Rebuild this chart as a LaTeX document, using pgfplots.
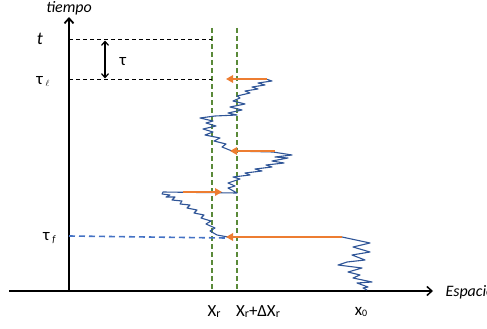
\documentclass[border=0pt]{standalone}
\usepackage{pgfplots}
\pgfplotsset{compat=1.18}
\usetikzlibrary{arrows.meta}
\usepackage{fontspec}
\setmainfont{Carlito}
\definecolor{walkblue}{HTML}{2F5597}
\definecolor{dashblue}{HTML}{4472C4}
\definecolor{jumporange}{HTML}{ED7D31}
\definecolor{barrier}{HTML}{70AD47}
\begin{document}
\begin{tikzpicture}
\useasboundingbox (0,0) rectangle (487bp,329bp);
\begin{axis}[
  at={(0,0)}, anchor=south west,
  scale only axis, width=487bp, height=329bp,
  xmin=0, xmax=487, ymin=0, ymax=329, y dir=reverse,
  hide axis, clip=false,
  every axis plot/.append style={no markers},
]
% axes
\addplot[black, line width=1.5bp, -{Straight Barb[length=5bp,width=9bp,line width=1.5bp]}]
  coordinates {(9,291) (433,291)};
\addplot[black, line width=2.5bp, -{Straight Barb[length=5bp,width=9bp,line width=1.8bp]}]
  coordinates {(69,291.7) (69,17)};

% barrier lines
\addplot[barrier!80!black, line width=1.1bp, dash pattern=on 5bp off 3bp]
  coordinates {(212,28) (212,291)};
\addplot[barrier!80!black, line width=1.1bp, dash pattern=on 5bp off 3bp]
  coordinates {(237,28) (237,291)};

% time levels
\addplot[black, line width=1bp, dash pattern=on 4bp off 3bp]
  coordinates {(69,40) (212,40)};
\addplot[black, line width=1bp, dash pattern=on 4bp off 3bp]
  coordinates {(69,79) (212,79)};
\addplot[black, line width=1.2bp, {Straight Barb[length=4bp,width=7bp]}-{Straight Barb[length=4bp,width=7bp]}]
  coordinates {(105,40.5) (105,78.5)};
\addplot[dashblue, line width=1.6bp, dash pattern=on 6bp off 4bp]
  coordinates {(69,236) (226,238)};

% trajectory
\addplot[walkblue, line width=1.1bp, line join=round] coordinates {
 (367,290) (363,288) (368,287) (357,283) (372,282) (353,278) (360,275)
 (348,272) (362,268) (338,265) (347,262) (365,260) (352,255) (370,252)
 (353,247) (370,243) (342,237)
 (228,237) (217,235)
 (210,231) (215,228) (206,224) (211,221) (201,218) (204,215) (194,213)
 (197,210) (187,208) (190,205) (180,204) (182,201) (172,200) (175,197)
 (166,197) (170,195) (162,194) (163,192)
 (237,193)
 (228,188) (235,186) (228,183) (240,179) (233,177) (250,175) (245,173)
 (262,171) (255,169) (272,167) (266,165) (284,163) (272,161) (288,158)
 (275,157) (292,155) (273,152)
 (232,151)
 (222,147) (226,144) (214,141) (220,138) (205,135) (213,132) (203,129)
 (216,126) (206,123) (213,121) (200,118) (215,116) (237,115)
 (228,113) (242,110) (230,107) (245,104) (233,101) (240,98) (237,96)
 (250,93) (245,91) (258,89) (252,87) (265,85) (258,83) (272,81) (266,79)
};

% jumps
\addplot[jumporange, line width=2.4bp, -{Triangle[length=7bp,width=7.5bp]}]
  coordinates {(267,79) (226,79)};
\addplot[jumporange, line width=2.4bp, -{Triangle[length=7bp,width=7.5bp]}]
  coordinates {(275,151) (230,151)};
\addplot[jumporange, line width=2.4bp, -{Triangle[length=7bp,width=7.5bp]}]
  coordinates {(183,192) (222,192)};
\addplot[jumporange, line width=2.4bp, -{Triangle[length=7bp,width=7.5bp]}]
  coordinates {(342,237) (226,237)};

% labels
\node[font=\fontsize{16}{18}\selectfont\itshape] at (axis cs:69,8) {tiempo};
\node[font=\fontsize{16}{18}\selectfont\itshape, anchor=west] at (axis cs:442,292) {Espacio};
\node[font=\fontsize{18}{20}\selectfont\itshape] at (axis cs:40,39) {t};
\node[font=\fontsize{17}{19}\selectfont] at (axis cs:123,62) {τ};
\node[font=\fontsize{17}{19}\selectfont, anchor=east] at (axis cs:53,81) {τ\,\raisebox{-2bp}{\fontsize{9}{10}\selectfont$\ell$}};
\node[font=\fontsize{17}{19}\selectfont, anchor=east] at (axis cs:59,238) {τ\,\raisebox{-2bp}{\fontsize{10}{11}\selectfont\itshape f}};
\node[font=\fontsize{17}{19}\selectfont] at (axis cs:214,312) {X\raisebox{-1bp}{\fontsize{12}{13}\selectfont r}};
\node[font=\fontsize{17}{19}\selectfont] at (axis cs:258,312) {X\raisebox{-1bp}{\fontsize{12}{13}\selectfont r}+ΔX\raisebox{-1bp}{\fontsize{12}{13}\selectfont r}};
\node[font=\fontsize{17}{19}\selectfont] at (axis cs:361,312) {x\raisebox{-1bp}{\fontsize{10}{11}\selectfont 0}};
\end{axis}
\end{tikzpicture}
\end{document}
